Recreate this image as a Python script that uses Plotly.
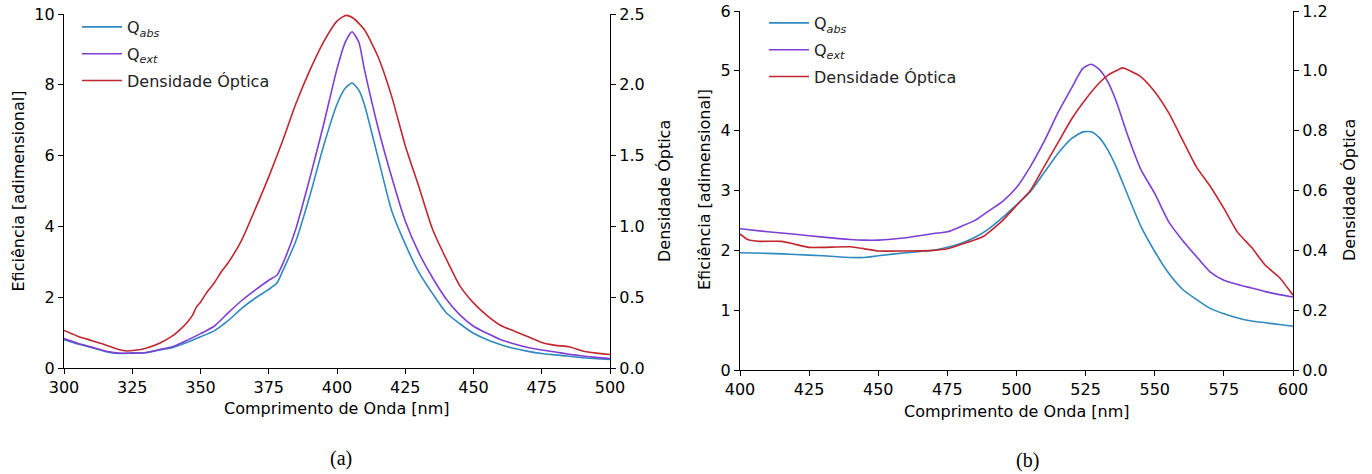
import plotly.graph_objects as go

# ---------------- Panel (a): 300-500 nm ----------------
wl_a = [300, 305, 310, 315, 320, 325, 330, 335, 340, 345, 350, 355, 360, 365, 370,
        375, 378, 380, 385, 390, 395, 400, 403, 405.5, 408, 410, 415, 420, 425, 430,
        435, 440, 445, 450, 455, 460, 465, 470, 475, 480, 485, 490, 495, 500]
qabs_a = [0.80, 0.68, 0.58, 0.47, 0.41, 0.42, 0.43, 0.51, 0.58, 0.72, 0.88, 1.05, 1.33, 1.68, 1.97,
          2.22, 2.40, 2.72, 3.60, 4.85, 6.25, 7.45, 7.90, 8.05, 7.85, 7.45, 5.95, 4.45, 3.50, 2.70,
          2.10, 1.56, 1.25, 0.98, 0.80, 0.66, 0.55, 0.47, 0.41, 0.37, 0.33, 0.29, 0.26, 0.24]
qext_a = [0.83, 0.70, 0.59, 0.48, 0.42, 0.42, 0.44, 0.52, 0.61, 0.78, 0.97, 1.18, 1.55, 1.90, 2.20,
          2.48, 2.62, 2.92, 3.95, 5.35, 6.85, 8.45, 9.20, 9.50, 9.20, 8.45, 6.80, 5.40, 4.15, 3.25,
          2.55, 1.95, 1.50, 1.18, 0.98, 0.80, 0.68, 0.58, 0.51, 0.45, 0.39, 0.34, 0.30, 0.27]

wl_od_a = [300, 305, 310, 315, 320, 323, 326, 330, 335, 340, 343, 345, 347, 348.5, 350,
           352, 355, 358, 360, 365, 370, 375, 380, 385, 390, 395, 400, 403.3, 406, 410,
           415, 420, 425, 430, 435, 440, 445, 450, 455, 460, 465, 470, 475, 480, 485,
           490, 495, 500]
od_a = [0.265, 0.225, 0.195, 0.165, 0.130, 0.120, 0.125, 0.140, 0.175, 0.230, 0.280, 0.320, 0.370, 0.430, 0.465,
        0.525, 0.600, 0.690, 0.740, 0.900, 1.120, 1.350, 1.600, 1.870, 2.100, 2.300, 2.450, 2.490, 2.470, 2.390,
        2.200, 1.920, 1.570, 1.280, 0.980, 0.770, 0.580, 0.460, 0.370, 0.300, 0.260, 0.220, 0.180, 0.160, 0.150,
        0.120, 0.105, 0.095]

# ---------------- Panel (b): 400-600 nm ----------------
wl_b = [400, 410, 420, 430, 440, 445, 450, 460, 470, 475, 480, 485, 490, 495, 500,
        505, 510, 515, 520, 524, 527, 530, 533, 536, 540, 545, 550, 555, 560, 565,
        570, 575, 580, 585, 590, 595, 600]
qabs_b = [1.96, 1.95, 1.93, 1.91, 1.88, 1.88, 1.91, 1.96, 2.00, 2.05, 2.12, 2.22, 2.36, 2.55, 2.76,
          2.98, 3.30, 3.62, 3.87, 3.98, 3.98, 3.88, 3.68, 3.40, 2.95, 2.40, 1.98, 1.62, 1.35, 1.18,
          1.03, 0.94, 0.87, 0.82, 0.79, 0.76, 0.73]
qext_b = [2.36, 2.31, 2.27, 2.22, 2.18, 2.17, 2.17, 2.21, 2.28, 2.31, 2.40, 2.50, 2.66, 2.82, 3.05,
          3.40, 3.82, 4.30, 4.72, 5.04, 5.11, 5.02, 4.82, 4.50, 3.95, 3.35, 2.95, 2.48, 2.17, 1.90,
          1.64, 1.50, 1.43, 1.37, 1.31, 1.26, 1.22]

wl_od_b = [400, 403, 407, 415, 420, 425, 430, 440, 445, 450, 460, 470, 475, 480, 485,
           488, 490, 495, 500, 505, 510, 515, 520, 525, 530, 533, 536, 538.4, 541, 545,
           550, 555, 560, 565, 570, 575, 580, 585, 590, 595, 600]
od_b = [0.455, 0.435, 0.430, 0.430, 0.420, 0.410, 0.410, 0.412, 0.405, 0.398, 0.398, 0.400, 0.405, 0.420, 0.435,
        0.446, 0.460, 0.500, 0.550, 0.600, 0.680, 0.760, 0.840, 0.905, 0.960, 0.985, 1.000, 1.010, 1.000, 0.980,
        0.930, 0.860, 0.770, 0.680, 0.615, 0.540, 0.460, 0.410, 0.350, 0.310, 0.250]

C_ABS = "#2f8abf"
C_EXT = "#7e3fd4"
C_OD = "#c1272f"
FONT = "DejaVu Sans"
FS = 16
W, H = 1372, 474

LBL_ABS = "Q<sub><i>abs</i></sub>"
LBL_EXT = "Q<sub><i>ext</i></sub>"
LBL_OD = "Densidade Óptica"

fig = go.Figure()


def add_line(x, y, name, color, xa, ya, legend, group):
    fig.add_trace(go.Scatter(
        x=x, y=y, name=name, mode="lines", xaxis=xa, yaxis=ya, legend=legend,
        legendgroup=group,
        line=dict(color=color, width=1.6, shape="spline", smoothing=0.6),
    ))


add_line(wl_a, qabs_a, LBL_ABS, C_ABS, "x", "y", "legend", "a_abs")
add_line(wl_a, qext_a, LBL_EXT, C_EXT, "x", "y", "legend", "a_ext")
add_line(wl_od_a, od_a, LBL_OD, C_OD, "x", "y2", "legend", "a_od")
add_line(wl_b, qabs_b, LBL_ABS, C_ABS, "x2", "y3", "legend2", "b_abs")
add_line(wl_b, qext_b, LBL_EXT, C_EXT, "x2", "y3", "legend2", "b_ext")
add_line(wl_od_b, od_b, LBL_OD, C_OD, "x2", "y4", "legend2", "b_od")


def px_x(p):
    return p / W


def px_y(p):
    return 1 - p / H


axis_common = dict(
    showline=True, linecolor="black", linewidth=1.3, ticks="outside", ticklen=5,
    tickwidth=1.2, tickcolor="black", showgrid=False, zeroline=False, automargin=False,
    tickfont=dict(family=FONT, size=FS, color="black"),
)

dom_xa = [px_x(64), px_x(610)]
dom_ya = [px_y(368), px_y(14)]
dom_xb = [px_x(740), px_x(1293)]
dom_yb = [px_y(370), px_y(11)]

fig.update_layout(
    width=W, height=H, margin=dict(l=0, r=0, t=0, b=0, autoexpand=False),
    paper_bgcolor="white", plot_bgcolor="white",
    font=dict(family=FONT, size=FS, color="black"),
    xaxis=dict(domain=dom_xa, range=[300, 500], tickvals=[300, 325, 350, 375, 400, 425, 450, 475, 500],
               anchor="y", **axis_common),
    yaxis=dict(domain=dom_ya, range=[0, 10], tickvals=[0, 2, 4, 6, 8, 10], anchor="x", **axis_common),
    yaxis2=dict(range=[0, 2.5], tickvals=[0, 0.5, 1.0, 1.5, 2.0, 2.5], tickformat=".1f",
                overlaying="y", side="right", anchor="x", **axis_common),
    xaxis2=dict(domain=dom_xb, range=[400, 600], tickvals=[400, 425, 450, 475, 500, 525, 550, 575, 600],
                anchor="y3", **axis_common),
    yaxis3=dict(domain=dom_yb, range=[0, 6], tickvals=[0, 1, 2, 3, 4, 5, 6], anchor="x2", **axis_common),
    yaxis4=dict(range=[0, 1.2], tickvals=[0, 0.2, 0.4, 0.6, 0.8, 1.0, 1.2], tickformat=".1f",
                overlaying="y3", side="right", anchor="x2", **axis_common),
    legend=dict(x=px_x(77), y=px_y(10), xanchor="left", yanchor="top", bgcolor="rgba(0,0,0,0)",
                font=dict(family=FONT, size=FS, color="#222"), itemwidth=40, tracegroupgap=3),
    legend2=dict(x=px_x(764), y=px_y(6), xanchor="left", yanchor="top", bgcolor="rgba(0,0,0,0)",
                 font=dict(family=FONT, size=FS, color="#222"), itemwidth=40, tracegroupgap=3),
    showlegend=True,
)

# Axis titles and panel labels
titles = [
    ("Eficiência [adimensional]", 17.5, 191, -90, FONT, FS),
    ("Densidade Óptica", 664, 191, -90, FONT, FS),
    ("Comprimento de Onda [nm]", 337, 408, 0, FONT, FS),
    ("Eficiência [adimensional]", 704, 190, -90, FONT, FS),
    ("Densidade Óptica", 1349, 190, -90, FONT, FS),
    ("Comprimento de Onda [nm]", 1017, 411, 0, FONT, FS),
    ("(a)", 341, 458, 0, "Liberation Serif", 20),
    ("(b)", 1027, 460, 0, "Liberation Serif", 20),
]
for text, x, y, ang, fam, size in titles:
    fig.add_annotation(text=text, x=px_x(x), y=px_y(y), xref="paper", yref="paper",
                       xanchor="center", yanchor="middle", showarrow=False, textangle=ang,
                       font=dict(family=fam, size=size, color="black"))

fig.write_html("out.html")
